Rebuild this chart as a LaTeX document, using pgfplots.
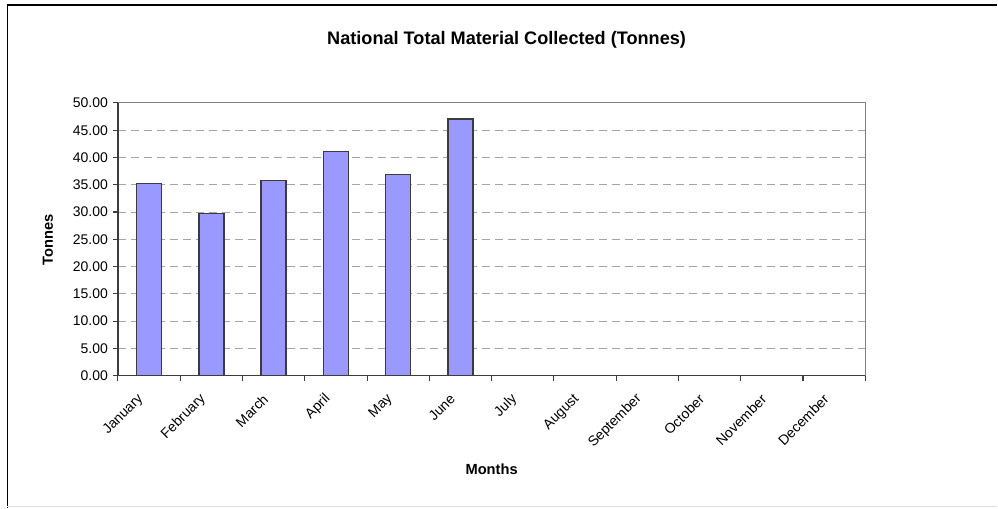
\documentclass[border=0pt]{standalone}
\usepackage{fontspec}
\setmainfont{Liberation Sans}
\usepackage{pgfplots}
\pgfplotsset{compat=1.18}
\definecolor{barfill}{RGB}{153,153,255}
\definecolor{baredge}{RGB}{60,60,60}
\definecolor{gridgray}{RGB}{165,165,165}
\definecolor{bordergray}{RGB}{128,128,128}

\begin{document}
\begin{tikzpicture}
% page is 998x508 px at 0.75pt per px
\path (0pt,0pt) rectangle (748.5pt,-381pt);
\draw[black, line width=1.2pt] (5.6pt,-381pt) -- (5.6pt,-3.6pt) -- (748.5pt,-3.6pt);
\draw[gray!25, line width=0.75pt] (5.6pt,-380.3pt) -- (748.5pt,-380.3pt);

\begin{axis}[
    at={(88.5pt,-282pt)}, anchor=south west,
    scale only axis,
    width=561pt, height=204.75pt,
    xmin=0, xmax=12,
    ymin=0, ymax=50,
    axis x line*=bottom, axis y line*=left,
    axis line style={-, draw=baredge, line width=1.1pt},
    tick align=outside,
    tick style={draw=baredge, line width=0.8pt},
    xtick={0.5,1.5,...,11.5},
    major x tick style={draw=none},
    minor xtick={0,1,...,12},
    minor tick length=4pt,
    major tick length=4pt,
    xticklabels={January,February,March,April,May,June,July,August,September,October,November,December},
    xticklabel style={anchor=east, xshift=-3.5pt, yshift=-9.5pt, rotate=45,
        font=\fontsize{10.5}{12}\selectfont},
    ytick={0,5,...,50},
    yticklabel style={font=\fontsize{10.5}{12}\selectfont},
    /pgf/number format/assume math mode=true,
    /pgf/number format/.cd, fixed, fixed zerofill, precision=2, /pgfplots/.cd,
    ymajorgrids=true,
    major grid style={draw=gridgray, line width=0.75pt, dash pattern=on 6pt off 3.75pt},
    clip=false,
]
\addplot[ybar, bar width=18.75pt, fill=barfill, draw=baredge, line width=1.1pt]
    coordinates {(0.5,35.26) (1.5,29.73) (2.5,35.75) (3.5,41.09) (4.5,36.86) (5.5,47.05)};
\draw[bordergray, line width=0.75pt] (rel axis cs:0,1) -- (rel axis cs:1,1) -- (rel axis cs:1,0);
\end{axis}

\node[font=\bfseries\fontsize{13.6}{16}\selectfont] at (380.25pt,-30pt) {National Total Material Collected (Tonnes)};
\node[font=\bfseries\fontsize{11}{13}\selectfont] at (369pt,-352.5pt) {Months};
\node[font=\bfseries\fontsize{11}{13}\selectfont, rotate=90] at (36pt,-180pt) {Tonnes};
\end{tikzpicture}
\end{document}
